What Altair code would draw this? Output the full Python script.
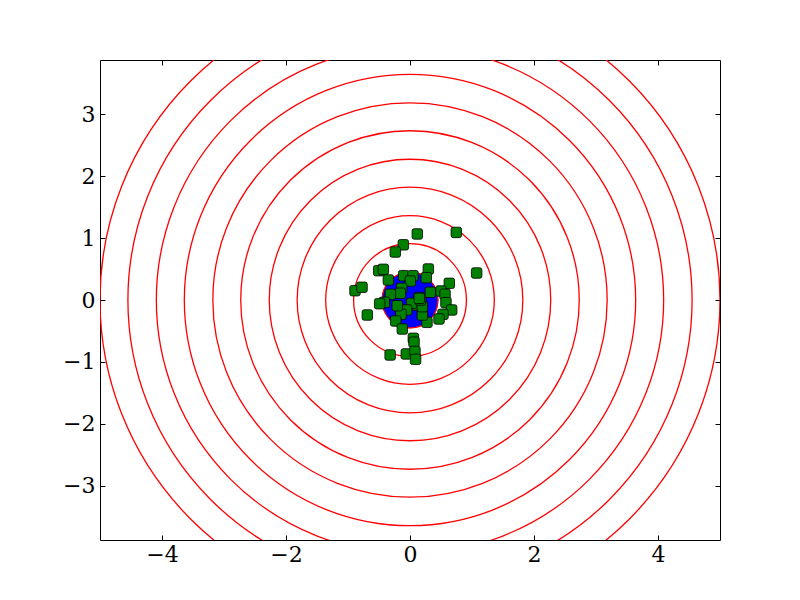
import altair as alt
import pandas as pd

# Concentric circle radii (data units)
radii = [0.45, 0.91, 1.36, 1.82, 2.27, 2.73, 3.18, 3.64, 4.09, 4.55, 5.0]
disc_radius = [0.45]

# Scatter points
px = [0.118, 0.747, -0.108, -0.237, 1.075, -0.505, -0.43, -0.887, -0.774, -0.688,
      -0.32, -0.06, 0.054, 0.065, 0.08, 0.09,
      -0.349, -0.102, 0.048, 0.005, 0.296, 0.263, 0.634, 0.5, 0.565, 0.58,
      0.672, 0.532, 0.468, 0.328, 0.274, 0.199, 0.145, 0.177, 0.108, 0.027,
      -0.054, -0.145, -0.205, -0.134, -0.156, -0.317, -0.414, -0.489, -0.231,
      -0.124, 0.2, 0.17, 0.15]
py = [1.065, 1.09, 0.89, 0.774, 0.435, 0.473, 0.495, 0.15, 0.205, -0.242,
      -0.887, -0.87, -0.618, -0.68, -0.83, -0.957,
      0.323, 0.392, 0.392, 0.306, 0.5, 0.36, 0.269, 0.145, 0.092, -0.043,
      -0.161, -0.231, -0.306, 0.124, -0.36, -0.242, 0.038, -0.054, -0.081, -0.054,
      -0.161, -0.231, -0.092, 0.188, 0.108, 0.092, -0.038, -0.06, -0.339,
      -0.468, -0.108, 0.0, 0.027]

x_ticks = [-4, -2, 0, 2, 4]
y_ticks = [-3, -2, -1, 0, 1, 2, 3]
x_domain = [-5, 5]
y_domain = [-3.871, 3.871]

circ_df = pd.DataFrame({"r": radii, "cx": [0.0] * len(radii), "cy": [0.0] * len(radii)})
disc_df = pd.DataFrame({"r": disc_radius, "cx": [0.0], "cy": [0.0]})
pts_df = pd.DataFrame({"x": px, "y": py})

xscale = alt.Scale(domain=x_domain, nice=False, zero=False)
yscale = alt.Scale(domain=y_domain, nice=False, zero=False)
rscale = alt.Scale(type="linear", domain=[0, 5], range=[0, 310], zero=True)

FONT = "DejaVu Serif"
common_axis = dict(grid=False, domain=False, tickSize=5, tickOffset=0, offset=-5,
                   tickColor="black", tickWidth=1, labelFont=FONT, labelFontSize=22,
                   labelColor="black", title=None)

circles = alt.Chart(circ_df).mark_arc(
    theta=0, theta2=6.2832, filled=False, color="red", strokeWidth=1.3, clip=True
).encode(
    x=alt.X("cx:Q", scale=xscale, axis=alt.Axis(orient="bottom", values=x_ticks,
                                                labelPadding=4, **common_axis)),
    y=alt.Y("cy:Q", scale=yscale, axis=alt.Axis(orient="left", values=y_ticks,
                                                labelPadding=5, **common_axis)),
    radius=alt.Radius("r:Q", scale=rscale, stack=None),
)

disc = alt.Chart(disc_df).mark_arc(
    theta=0, theta2=6.2832, fill="blue", stroke="red", strokeWidth=1
).encode(
    x=alt.X("cx:Q", scale=xscale, axis=None),
    y=alt.Y("cy:Q", scale=yscale, axis=None),
    radius=alt.Radius("r:Q", scale=rscale, stack=None),
)

rounded_square = ("M -0.6 -1 L 0.6 -1 Q 1 -1 1 -0.6 L 1 0.6 Q 1 1 0.6 1 "
                  "L -0.6 1 Q -1 1 -1 0.6 L -1 -0.6 Q -1 -1 -0.6 -1 Z")

points = alt.Chart(pts_df).mark_point(
    shape=rounded_square, filled=True, fill="#008000", stroke="black",
    strokeWidth=0.8, size=110, opacity=1
).encode(
    x=alt.X("x:Q", scale=xscale, axis=alt.Axis(orient="top", values=x_ticks,
                                               labels=False, **common_axis)),
    y=alt.Y("y:Q", scale=yscale, axis=alt.Axis(orient="right", values=y_ticks,
                                               labels=False, **common_axis)),
)

chart = alt.layer(circles, disc, points).resolve_axis(
    x="independent", y="independent"
).properties(
    width=620, height=480,
    autosize=alt.AutoSizeParams(type="none"),
    padding={"left": 92, "top": 52, "right": 72, "bottom": 52},
    background="white",
).configure_view(
    stroke="black", strokeWidth=1
)

chart.save("out.html", embed_options={"renderer": "svg", "actions": False})
